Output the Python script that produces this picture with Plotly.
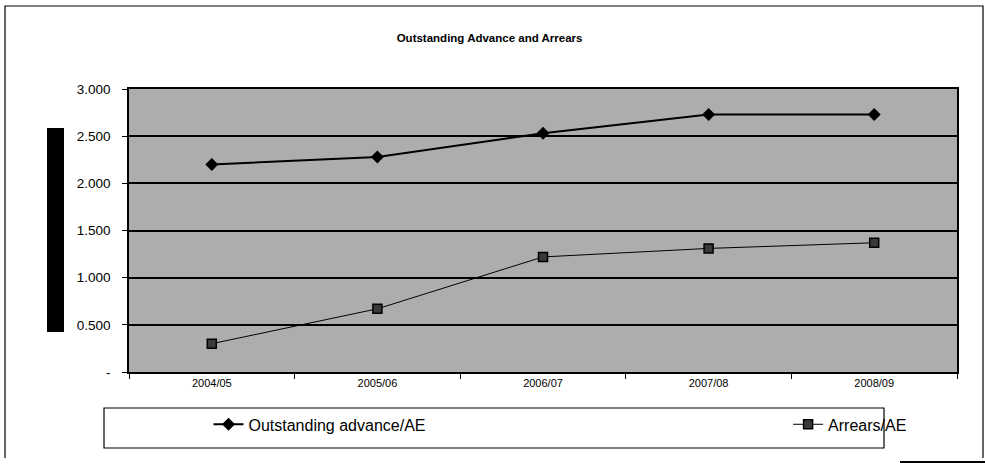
import plotly.graph_objects as go

years = ["2004/05", "2005/06", "2006/07", "2007/08", "2008/09"]
outstanding = [2.20, 2.28, 2.53, 2.73, 2.73]
arrears = [0.30, 0.67, 1.22, 1.31, 1.37]

y_ticks = [0, 0.5, 1.0, 1.5, 2.0, 2.5, 3.0]
y_labels = ["-", "0.500", "1.000", "1.500", "2.000", "2.500", "3.000"]

fig = go.Figure()

fig.add_trace(go.Scatter(
    x=years, y=outstanding, mode="lines+markers",
    name="Outstanding advance/AE",
    line=dict(color="black", width=2),
    marker=dict(symbol="diamond", size=10, color="black"),
    legend="legend",
))
fig.add_trace(go.Scatter(
    x=years, y=arrears, mode="lines+markers",
    name="Arrears/AE",
    line=dict(color="black", width=1),
    marker=dict(symbol="square", size=9, color="#3a3a3a",
                line=dict(color="black", width=1.5)),
    legend="legend2",
))

legend_font = dict(family="Liberation Sans, Arial", size=16, color="black")

fig.update_layout(
    width=985, height=464,
    margin=dict(l=129, r=28, t=89, b=92),
    paper_bgcolor="white",
    plot_bgcolor="#adadad",
    font=dict(family="Liberation Sans, Arial", size=10, color="black"),
    # title centre sits ~38px below the top of the figure
    title=dict(text="<b>Outstanding Advance and Arrears</b>",
               x=0.497, xref="container", xanchor="center",
               y=1 - 38 / 464, yref="container", yanchor="middle",
               font=dict(size=11.5)),
    legend=dict(x=0.096, y=-0.125, xanchor="left", yanchor="top",
                font=legend_font, bgcolor="rgba(0,0,0,0)"),
    legend2=dict(x=0.796, y=-0.125, xanchor="left", yanchor="top",
                 font=legend_font, bgcolor="rgba(0,0,0,0)"),
    showlegend=True,
)

fig.update_xaxes(
    type="category", range=[-0.5, 4.5],
    showline=True, linecolor="black", linewidth=1.5, mirror=True,
    ticks="outside", ticklen=5, tickcolor="black", tickson="boundaries",
    showgrid=False, tickfont=dict(size=11),
)
fig.update_yaxes(
    range=[0, 3], tickvals=y_ticks, ticktext=y_labels,
    showline=True, linecolor="black", linewidth=1.5, mirror=True,
    ticks="outside", ticklen=5, tickcolor="black", ticklabelstandoff=9,
    showgrid=True, gridcolor="black", gridwidth=1.5,
    zeroline=False, tickfont=dict(size=13.5),
)

# legend frame
fig.add_shape(type="rect", xref="paper", yref="paper",
              x0=(104 - 129) / 828, x1=(884 - 129) / 828,
              y0=(372 - 448) / 283, y1=(372 - 408) / 283,
              line=dict(color="black", width=1.2))
# redacted axis title block
fig.add_shape(type="rect", xref="paper", yref="paper",
              x0=(47 - 129) / 828, x1=(64 - 129) / 828,
              y0=(372 - 332) / 283, y1=(372 - 128) / 283,
              line=dict(width=0), fillcolor="black")
# outer chart border (left, top, right)
fig.add_shape(type="path", xref="paper", yref="paper",
              path="M {l},{b} L {l},{t} L {r},{t} L {r},{b}".format(
                  l=(5 - 129) / 828, r=(983 - 129) / 828,
                  t=(372 - 6) / 283, b=(372 - 458) / 283),
              line=dict(color="black", width=1.2))
fig.add_shape(type="line", xref="paper", yref="paper",
              x0=(900 - 129) / 828, x1=(985 - 129) / 828,
              y0=(372 - 462) / 283, y1=(372 - 462) / 283,
              line=dict(color="black", width=2))

# drop the default page margin so the figure sits at the window's corner
fig.write_html("out.html", config={"displayModeBar": False},
               post_script="document.body.style.margin='0';")
